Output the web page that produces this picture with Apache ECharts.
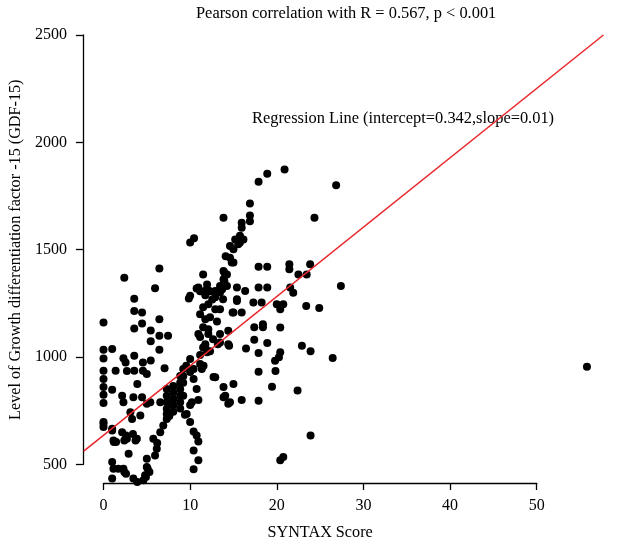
<!DOCTYPE html>
<html>
<head>
<meta charset="utf-8">
<script src="https://cdn.jsdelivr.net/npm/echarts@6/dist/echarts.min.js"></script>
<style>
html,body{margin:0;padding:0;background:#fff;}
#chart{width:617px;height:546px;}
</style>
</head>
<body>
<div id="chart"></div>
<script>
// SYNTAX score (x) and GDF-15 level (y) for each patient
const syntaxScore = [
 0,0,1.0,0,2.3,3.55,2.55,4.55,5.45,7.05,
 0,1.4,3.55,4.55,
 6.45,2.4,5.95,3.55,3.55,4.45,4.45,6.45,3.55,5.45,6.45,7.45,5.45,6.45,
 0,0,0,0,0,0,0,
 1.0,2.15,2.3,1.0,2.15,2.7,1.15,3.85,2.9,1.0,1.15,2.3,1.0,3.45,3.9,
 3.9,2.7,5.0,
 3.45,4.45,5.0,5.4,6.55,3.3,4.25,3.1,
 5.0,5.0,4.8,5.75,6.15,5.95,6.55,6.9,7.3,
 7.3,7.3,7.3,7.3,7.3,
 8.05,8.05,8.05,8.05,8.05,
 8.85,8.85,8.85,8.85,8.85,8.85,
 9.2,9.2,9.2,9.2,
 10.0,10.4,10.75,10.2,10.0,9.6,
 12.7,13.85,15.0,14.05,14.6,
 1.0,1.2,1.45,2.6,2.4,1.7,2.4,2.6,3.4,3.7,5.1,5.3,4.9,4.6,6.2,7.6,
 10,9.85,10.75,11.8,
 11.5,11.95,12.55,12.9,12.3,12.1,12.65,13.2,11.75,13.45,13.1,13.7,
 14.1,15.0,13.95,13.95,15.4,14.9,13.45,10.95,14.5,
 20.9,18.9,17.9,26.85,16.9,13.85,16.9,16.9,24.35,15.95,15.95,10,10.45,
 15.75,16.15,15.2,15.55,14.6,15.0,15.75,
 14.6,14.8,
 17.9,18.9,21.45,21.45,22.5,23.85,23.45,
 13.85,14.25,13.85,
 10.95,11.95,12.9,13.45,14.25,15.4,16.35,17.9,18.9,
 10,27.4,21.55,21.9,
 11.15,11.75,12.3,12.9,13.45,13.8,12.1,11.5,
 15.4,15.0,15.95,17.3,18.25,20.0,20.75,20.4,23.4,24.9,
 11.15,11.75,11.5,12.1,11.15,11.75,12.3,11.15,
 14.4,14.4,13.45,
 17.4,18.4,18.4,20.4,17.4,18.9,16.45,17.9,20.4,20.25,19.8,17.9,19.85,22.9,23.9,26.45,22.4,19.45,
 9.55,10.4,11.55,11.35,12.9,13.85,14.4,15.95,17.9,10.95,10.0,9.4,10.4,10.75,10.95,10.4,10.95,10.4,23.9,20.4,20.75,
 11.5,11.95,11.15,
 55.8
];
const gdf15 = [
 1161,1034,1037,993,994,1006,975,975,984,948,
 936,936,936,936,
 1413,1369,1320,1272,1215,1208,1156,1176,1133,1124,1099,1099,1074,1034,
 898,861,824,786,697,689,674,
 848,820,790,666,650,619,611,619,550,511,480,480,434,434,418,
 875,935,921,
 813,813,782,790,790,712,728,743,
 526,488,449,619,573,542,650,681,712,
 851,820,790,759,735,
 865,835,805,775,745,
 912,880,850,820,790,760,
 944,910,880,820,
 930,898,851,790,698,735,
 907,861,875,820,790,
 658,604,604,635,611,480,465,457,642,611,480,465,441,426,600,725,
 991,1273,1319,1310,
 1385,1338,1268,1223,1185,1129,1083,1060,1060,1107,1166,1316,
 1470,1440,1393,1354,1269,1208,1223,1107,1053,
 1873,1854,1816,1800,1715,1649,1659,1633,1649,1625,1602,1533,1553,
 1565,1548,1548,1525,1517,1502,1533,
 1463,1440,
 1421,1421,1432,1409,1385,1432,1385,
 1401,1385,1362,
 1324,1316,1308,1331,1331,1324,1308,1324,1324,
 1285,1331,1324,1300,
 1306,1288,1306,1278,1301,1269,1246,1232,
 1261,1208,1208,1254,1254,1246,1246,1223,1238,1228,
 1199,1176,1139,1107,1093,1046,1027,1009,
 1122,1060,1068,
 1139,1153,1139,1138,1080,1065,1040,1019,1022,999,983,932,935,1053,1027,996,844,862,
 960,944,960,944,906,813,782,800,797,800,777,731,653,635,607,565,519,477,635,519,534,
 1045,1022,968,
 955
];
// regression line end points (x, y)
const regX = [-2.26, 57.7];
const regY = [568, 2500];
const xTicks = [0, 10, 20, 30, 40, 50];
const yTicks = [500, 1000, 1500, 2000, 2500];
const titleText = 'Pearson correlation with R = 0.567, p < 0.001';
const regText = 'Regression Line (intercept=0.342,slope=0.01)';
const xName = 'SYNTAX Score';
const yName = 'Level of Growth differentiation factor -15 (GDF-15)';

const FONT = '"Liberation Serif", "DejaVu Serif", serif';
const points = syntaxScore.map((x, i) => [x, gdf15[i]]);
const regLine = regX.map((x, i) => [x, regY[i]]);

// plot geometry (pixels)
const W = 617, H = 546;
const G = {left: 103.3, right: 80.3, top: 35, bottom: 80.3};
const xMin = xTicks[0], xMax = xTicks[xTicks.length - 1];
const yMin = yTicks[0], yMax = yTicks[yTicks.length - 1];
const pxPerX = (W - G.left - G.right) / (xMax - xMin);
const pxPerY = (H - G.top - G.bottom) / (yMax - yMin);
// an invisible full-canvas grid with the same scale, so the regression line can run past the axes
const fullX = [xMin - G.left / pxPerX, xMax + G.right / pxPerX];
const fullY = [yMin - G.bottom / pxPerY, yMax + G.top / pxPerY];

const chart = echarts.init(document.getElementById('chart'), null, {renderer: 'canvas'});
chart.setOption({
  animation: false,
  backgroundColor: '#fff',
  grid: [
    {left: G.left, right: G.right, top: G.top, bottom: G.bottom},
    {left: 0, right: 0, top: 0, bottom: 0}
  ],
  xAxis: [{
    type: 'value', min: xMin, max: xMax, interval: 10,
    offset: 18.6,
    splitLine: {show: false},
    axisLine: {onZero: false, lineStyle: {color: '#000', width: 1.3}},
    axisTick: {length: 7, lineStyle: {color: '#000', width: 1.3}},
    axisLabel: {margin: 15, color: '#000', fontFamily: FONT, fontSize: 16},
    name: xName, nameLocation: 'middle', nameGap: 42,
    nameTextStyle: {color: '#000', fontFamily: FONT, fontSize: 16.2}
  }, {
    gridIndex: 1, type: 'value', min: fullX[0], max: fullX[1], show: false
  }],
  yAxis: [{
    type: 'value', min: yMin, max: yMax, interval: 500,
    offset: 20.6,
    splitLine: {show: false},
    axisLine: {show: true, onZero: false, lineStyle: {color: '#000', width: 1.3}},
    axisTick: {show: true, length: 7, lineStyle: {color: '#000', width: 1.3}},
    axisLabel: {margin: 16, color: '#000', fontFamily: FONT, fontSize: 16, formatter: v => String(v)},
    name: yName, nameLocation: 'middle', nameGap: 57,
    nameTextStyle: {color: '#000', fontFamily: FONT, fontSize: 16.2}
  }, {
    gridIndex: 1, type: 'value', min: fullY[0], max: fullY[1], show: false
  }],
  graphic: [
    {type: 'text', left: 196, top: 6, style: {text: titleText, font: '16.4px ' + FONT, fill: '#000'}},
    {type: 'text', left: 252, top: 111, style: {text: regText, font: '16.4px ' + FONT, fill: '#000'}}
  ],
  series: [
    {
      type: 'scatter', data: points, symbol: 'circle', symbolSize: 8, clip: false,
      itemStyle: {color: '#000', opacity: 1}, emphasis: {disabled: true}, z: 2
    },
    {
      type: 'line', xAxisIndex: 1, yAxisIndex: 1, data: regLine, showSymbol: false,
      lineStyle: {color: '#e8262b', width: 1.5}, emphasis: {disabled: true}, z: 3
    }
  ]
});
</script>
</body>
</html>
